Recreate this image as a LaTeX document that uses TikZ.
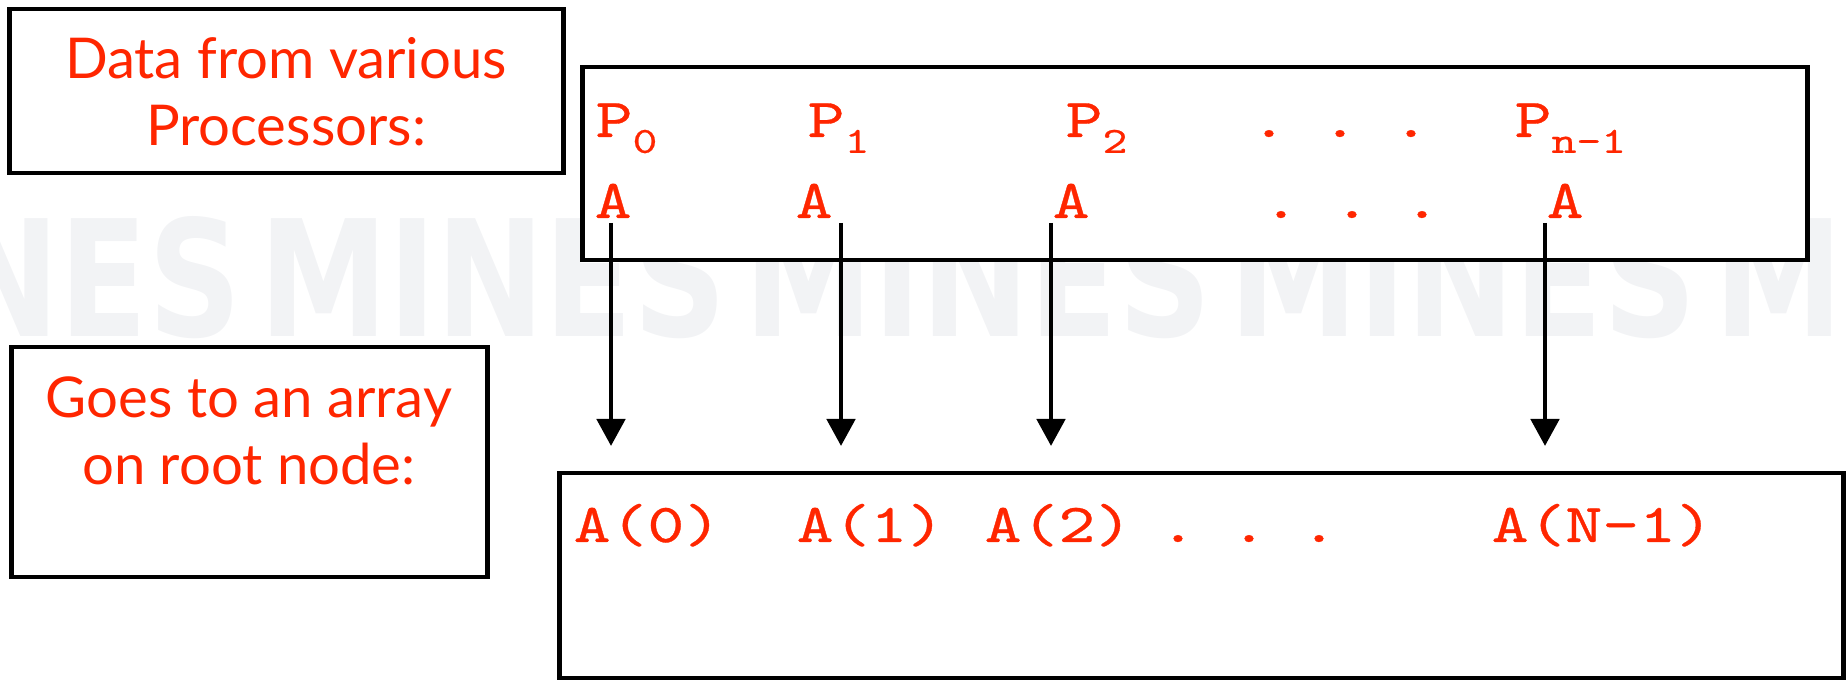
\documentclass[tikz,border=0pt]{standalone}
\usepackage{fontspec}
\setmainfont{Lato}
\newfontfamily\codefont[Extension=.otf, FakeStretch=1.28, FakeBold=0.6]{lmmono10-regular}
\newfontfamily\marcafont{DejaVu Sans}
\usetikzlibrary{arrows.meta}
\definecolor{rojo}{RGB}{255,38,0}
\definecolor{marca}{RGB}{242,243,245}
\newcommand{\bajo}[1]{\raisebox{-4.5pt}{\fontsize{10.5}{10.5}\selectfont #1}}
\tikzset{
  caja/.style={draw=black, fill=white, line width=1.35pt, inner sep=0pt},
  rotulo/.style={text=rojo, font=\fontsize{16}{19.1}\selectfont, align=center, inner sep=0pt},
  codigo/.style={text=rojo, font=\codefont\fontsize{15.6}{15.6}\selectfont, inner sep=0pt, anchor=base west},
  flecha/.style={line width=1.4pt, -{Triangle[length=0.27cm,width=0.28cm]}}
}
\begin{document}
\begin{tikzpicture}[x=0.01cm,y=-0.01cm]
\useasboundingbox (0,0) rectangle (1848,680);
% Fondo
\begin{scope}
\clip (0,0) rectangle (1848,680);
\foreach \k in {0,...,4}
  \node[text=marca, inner sep=0pt, anchor=base east, font=\marcafont\bfseries\fontsize{46}{46}\selectfont] (marca\k) at (242+485*\k,337) {\scalebox{0.8}[1]{MINES}};
\end{scope}
% Cajas
\node[caja, minimum width=5.53cm, minimum height=1.64cm] (datos) at (286.5,91) {};
\node[caja, minimum width=12.24cm, minimum height=1.93cm] (procs) at (1195,163.5) {};
\node[caja, minimum width=4.75cm, minimum height=2.30cm] (va) at (249.5,462) {};
\node[caja, minimum width=12.83cm, minimum height=2.05cm] (raiz) at (1201.5,575.5) {};
% Rotulos
\node[rotulo] (txtdatos) at (286,92) {Data from various\\Processors:};
\node[rotulo] (txtva) at (249,431) {Goes to an array\\on root node:};
% Procesadores
\node[codigo] (p0) at (595,137) {P\bajo{0}};
\node[codigo] (p1) at (807,137) {P\bajo{1}};
\node[codigo] (p2) at (1065,137) {P\bajo{2}};
\node[codigo] (pn) at (1514,137) {P\bajo{n-1}};
\node[codigo] (a0) at (594,218) {A};
\node[codigo] (a1) at (795,218) {A};
\node[codigo] (a2) at (1052,218) {A};
\node[codigo] (an) at (1546,218) {A};
\foreach \x in {1269,1340,1411}
  \node[codigo, anchor=base] (pd\x) at (\x,137) {.};
\foreach \x in {1281,1352,1422}
  \node[codigo, anchor=base] (ad\x) at (\x,218) {.};
% Arreglo
\node[codigo] (r0) at (573,542) {A(0)};
\node[codigo] (r1) at (796,542) {A(1)};
\node[codigo] (r2) at (984,542) {A(2)};
\node[codigo] (rn) at (1491,542) {A(N-1)};
\foreach \x in {1178,1249,1319}
  \node[codigo, anchor=base] (rd\x) at (\x,542) {.};
% Flechas
\foreach \x [count=\i] in {611,841,1051,1545} {
  \coordinate (ini\i) at (\x,223);
  \coordinate (fin\i) at (\x,446);
  \draw[flecha] (ini\i) -- (fin\i);
}
\end{tikzpicture}
\end{document}
